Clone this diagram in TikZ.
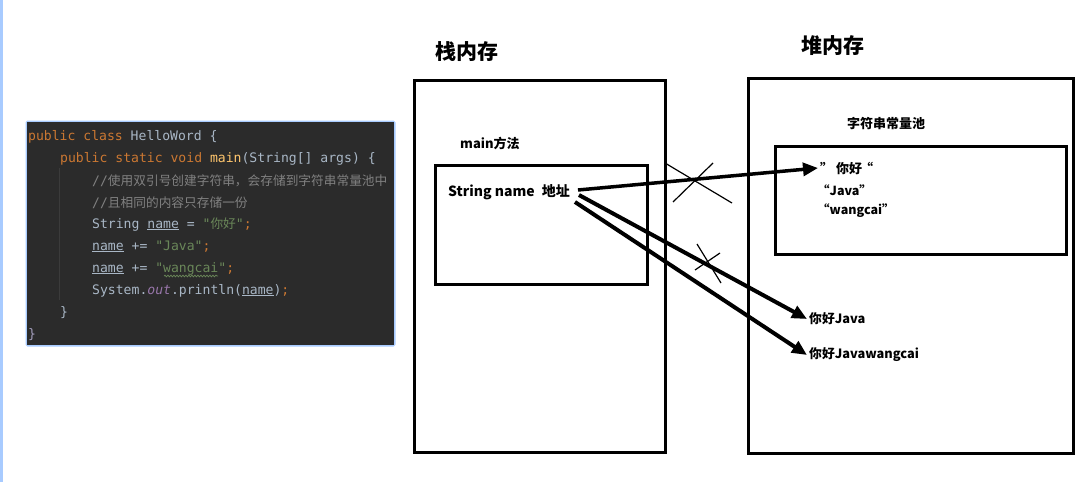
\documentclass[tikz,border=0pt]{standalone}
\usepackage{fontspec}
\setmainfont{Noto Sans CJK SC}
\setmonofont{DejaVu Sans Mono}
\newfontfamily\cjk{Noto Sans CJK SC}
\usetikzlibrary{
    arrows.meta,
    positioning,
    decorations.pathmorphing
}
% IDE colours
\definecolor{ideBg}{HTML}{2B2B2B}
\definecolor{ideText}{HTML}{A9B7C6}
\definecolor{ideKey}{HTML}{CC7832}
\definecolor{ideStr}{HTML}{6A8759}
\definecolor{ideNote}{HTML}{808080}
\definecolor{ideFunc}{HTML}{FFC66D}
\definecolor{ideField}{HTML}{9876AA}
\definecolor{ideGuide}{HTML}{3B3B3B}
\definecolor{ideGlow}{HTML}{A8CBFF}
\newcommand{\jkw}[1]{\textcolor{ideKey}{#1}}
\newcommand{\jstr}[1]{\textcolor{ideStr}{#1}}
\newcommand{\jnote}[1]{\textcolor{ideNote}{#1}}
\newcommand{\jfun}[1]{\textcolor{ideFunc}{#1}}
\tikzset{
    membox/.style={
        draw,
        line width=3pt,
        anchor=north west,
        inner sep=0pt
    },
    heading/.style={
        font=\bfseries\fontsize{21}{23}\selectfont
    },
    label/.style={
        anchor=west,
        inner sep=2pt,
        font=\bfseries\fontsize{13}{15}\selectfont
    },
    small/.style={
        label,
        font=\bfseries\fontsize{12.5}{14}\selectfont
    },
    codeline/.style={
        anchor=base west,
        inner sep=0pt,
        text=ideText,
        font=\ttfamily\fontsize{13.1}{15}\selectfont
    },
    pointer/.style={
        -{Triangle[length=15pt, width=13pt]},
        line width=4pt
    },
    crossline/.style={
        line width=1.2pt
    }
}
\begin{document}
\begin{tikzpicture}[x=1pt, y=-1pt]
        \useasboundingbox (0,0) rectangle (1084,482);
        \fill[ideGlow] (0,0) rectangle (2.5,482);

        % Code panel
        \draw[ideGlow, line width=3pt, rounded corners=1pt] (27,122) rectangle (394,345);
        \node[fill=ideBg, anchor=north west, inner sep=0pt,
              minimum width=367pt, minimum height=223pt] (code) at (27,122) {};
        \draw[ideGuide, line width=1pt] (59,168) -- (59,300);
        \node[codeline] (l1) at (28,140) {\jkw{public class} HelloWord \{};
        \node[codeline] (l2) at (60,162) {\jkw{public static void} \jfun{main}(String[] args) \{};
        \node[codeline] (l3) at (92,185) {\jnote{//{\cjk\fontsize{12.7}{15}\selectfont 使用双引号创建字符串，会存储到字符串常量池中}}};
        \node[codeline] (l4) at (92,207) {\jnote{//{\cjk\fontsize{12.7}{15}\selectfont 且相同的内容只存储一份}}};
        \node[codeline] (l5) at (92,228) {String \underline{name} = \jstr{"{\cjk\fontsize{12.7}{15}\selectfont 你好}"}\jkw{;}};
        \node[codeline] (l6) at (92,250) {\underline{name} += \jstr{"Java"}\jkw{;}};
        \node[codeline] (l7) at (92,272) {\underline{name} += \jstr{"wangcai"}\jkw{;}};
        \draw[ideStr, line width=0.7pt, decorate,
              decoration={snake, amplitude=0.9pt, segment length=3pt}] (164,276) -- (218,276);
        \node[codeline] (l8) at (92,294) {System.\textcolor{ideField}{\textit{out}}.println(\underline{name})\jkw{;}};
        \node[codeline] (l9) at (60,316) {\}};
        \node[codeline] (l10) at (28,338) {\textcolor{ideField!40!ideText}{\}}};

        % Stack memory
        \node[membox, minimum width=251pt, minimum height=372pt] (stack) at (412.5,78.5) {};
        \node[heading] (stacktitle) at (467,52) {栈内存};
        \node[label] (mainlabel) at (458,143) {main方法};
        \node[membox, minimum width=212pt, minimum height=119pt] (frame) at (434,164) {};
        \node[label, font=\bfseries\fontsize{14}{16}\selectfont] (var) at (446,192) {String name\hspace{7pt}地址};

        % Heap memory
        \node[membox, minimum width=325pt, minimum height=375pt] (heap) at (746.5,76.5) {};
        \node[heading] (heaptitle) at (833,46) {堆内存};
        \node[label] (pooltitle) at (845,124) {字符串常量池};
        \node[membox, minimum width=290.5pt, minimum height=108pt] (pool) at (774,144.5) {};
        \node[label, font=\bfseries\fontsize{13}{15}\selectfont] (nihao) at (818,168) {”\ 你好\kern-2pt“};
        \node[small] (java) at (815,190) {“Java”};
        \node[small] (wangcai) at (815,211) {“wangcai”};
        \node[small, font=\bfseries\fontsize{12.8}{14}\selectfont] (concat1) at (807,319) {你好Java};
        \node[small, font=\bfseries\fontsize{12.8}{14}\selectfont] (concat2) at (807,355) {你好Javawangcai};

        % References
        \draw[pointer, line width=3.5pt] ([shift={(6pt,2pt)}]var.east) -- (nihao.west);
        \draw[pointer] ([shift={(7pt,-3pt)}]var.east) -- (concat1.west);
        \draw[pointer] ([shift={(3pt,-10pt)}]var.east) -- (concat2.west);

        % Crossed out references
        \draw[crossline] (665,163) -- (732,203);
        \draw[crossline] (713,163) -- (673,202);
        \draw[crossline] (697,244) -- (721,283);
        \draw[crossline] (695,270) -- (720,253);
    \end{tikzpicture}
\end{document}
